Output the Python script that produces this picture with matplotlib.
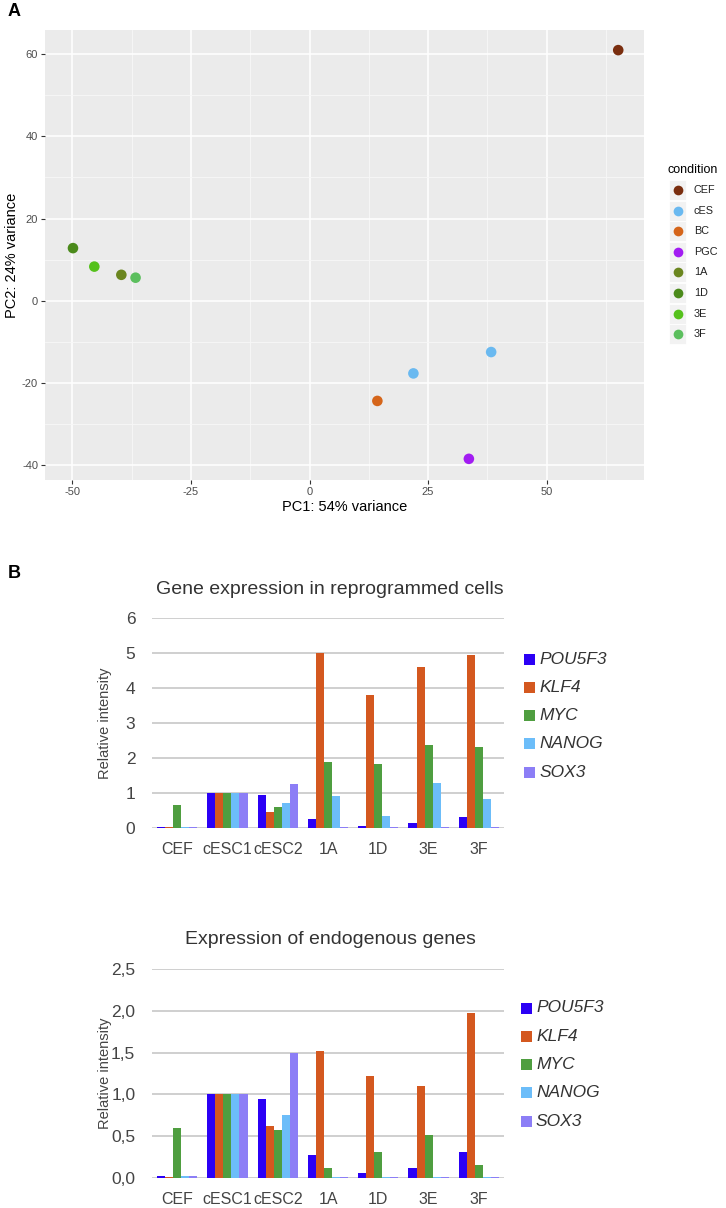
import numpy as np
import matplotlib
matplotlib.use("Agg")
import matplotlib.pyplot as plt
from matplotlib.patches import Rectangle
from matplotlib.lines import Line2D

plt.rcParams['font.family'] = ['Liberation Sans', 'DejaVu Sans']
plt.rcParams['axes.unicode_minus'] = False

W, H = 726, 1208

# ---- PCA data (panel A) ----
conditions = ['CEF', 'cES', 'BC', 'PGC', '1A', '1D', '3E', '3F']
cond_colors = ['#7A2E0F', '#6AB9F0', '#D5651A', '#A21CF2',
               '#6B861F', '#4B8A1B', '#55C11C', '#5CBF5E']
pc_cond = ['CEF', 'cES', 'cES', 'BC', 'PGC', '1A', '1D', '3E', '3F']
pc1 = [65.1, 38.3, 21.9, 14.3, 33.6, -39.7, -49.9, -45.4, -36.7]
pc2 = [61.0, -12.5, -17.7, -24.4, -38.5, 6.3, 12.8, 8.3, 5.6]

# ---- bar data (panel B) ----
samples = ['CEF', 'cESC1', 'cESC2', '1A', '1D', '3E', '3F']
genes = ['POU5F3', 'KLF4', 'MYC', 'NANOG', 'SOX3']
gene_colors = ['#2B00F5', '#D4581F', '#4F9E40', '#6CBDF9', '#8C7EF6']

total = {
    'POU5F3': [0.05, 1.0, 0.95, 0.27, 0.08, 0.14, 0.33],
    'KLF4':   [0.03, 1.0, 0.47, 5.02, 3.81, 4.61, 4.95],
    'MYC':    [0.67, 1.0, 0.61, 1.89, 1.83, 2.39, 2.32],
    'NANOG':  [0.05, 1.0, 0.73, 0.93, 0.36, 1.30, 0.83],
    'SOX3':   [0.05, 1.0, 1.27, 0.05, 0.05, 0.05, 0.05],
}
endo = {
    'POU5F3': [0.02, 1.0, 0.94, 0.27, 0.06, 0.12, 0.31],
    'KLF4':   [0.01, 1.0, 0.62, 1.52, 1.22, 1.10, 1.97],
    'MYC':    [0.60, 1.0, 0.58, 0.12, 0.31, 0.52, 0.16],
    'NANOG':  [0.02, 1.0, 0.75, 0.01, 0.01, 0.01, 0.01],
    'SOX3':   [0.02, 1.0, 1.50, 0.01, 0.01, 0.01, 0.01],
}


def fx(x):
    return x / W


def fy(y):
    return 1 - y / H


def box(x0, y0, x1, y1):
    # pixel box (top-left origin) -> figure rect
    return [fx(x0), fy(y1), (x1 - x0) / W, (y1 - y0) / H]


fig = plt.figure(figsize=(W / 100, H / 100), dpi=100)

# ================= panel A =================
ax = fig.add_axes(box(45, 30, 644.3, 480))
ax.set_facecolor('#EBEBEB')
ax.set_xlim(-55.8, 70.6)
ax.set_ylim(-43.65, 65.9)
ax.set_xticks([-50, -25, 0, 25, 50])
ax.set_yticks([-40, -20, 0, 20, 40, 60])
ax.set_xticks([-37.5, -12.5, 12.5, 37.5, 62.5], minor=True)
ax.set_yticks([-30, -10, 10, 30, 50], minor=True)
ax.grid(True, which='major', color='white', lw=1.1)
ax.grid(True, which='minor', color='#F7F7F7', lw=0.6)
ax.set_axisbelow(True)
for s in ax.spines.values():
    s.set_visible(False)
ax.tick_params(which='major', length=3, color='#333333', labelsize=8,
               labelcolor='#4D4D4D', pad=2)
ax.tick_params(which='minor', length=0)
for c, col in zip(conditions, cond_colors):
    xs = [x for x, k in zip(pc1, pc_cond) if k == c]
    ys = [y for y, k in zip(pc2, pc_cond) if k == c]
    ax.scatter(xs, ys, s=58, color=col, edgecolors='none', zorder=3)
ax.set_xlabel('PC1: 54% variance', fontsize=10.5, labelpad=2)
ax.set_ylabel('PC2: 24% variance', fontsize=10.5, labelpad=2)

# legend for panel A
fig.text(fx(667), fy(170), 'condition', fontsize=9, va='center', ha='left')
for i, (c, col) in enumerate(zip(conditions, cond_colors)):
    yc = 190 + 20.6 * i
    fig.add_artist(Rectangle((fx(669), fy(yc + 10)), 17 / W, 20 / H,
                             transform=fig.transFigure, facecolor='#F2F2F2',
                             edgecolor='white', lw=0.6))
    fig.add_artist(Line2D([fx(677.5)], [fy(yc)], marker='o', markersize=7,
                          color=col, markeredgewidth=0,
                          transform=fig.transFigure))
    fig.text(fx(694), fy(yc), c, fontsize=7.8, va='center', ha='left',
             color='#222222')

fig.text(fx(8), fy(12), 'A', fontsize=13, fontweight='bold', va='center')
fig.text(fx(8), fy(573), 'B', fontsize=13, fontweight='bold', va='center')


# ================= panel B =================
def bar_panel(rect, data, title, ymax, step, fmt, title_y, leg_x, leg_y0):
    a = fig.add_axes(rect)
    x = np.arange(len(samples))
    bw = 0.16
    for j, (g, col) in enumerate(zip(genes, gene_colors)):
        a.bar(x + (j - 2) * bw, data[g], width=bw, color=col, zorder=3)
    a.set_xlim(-0.5, len(samples) - 0.5)
    a.set_ylim(0, ymax)
    ticks = np.arange(0, ymax + step / 2, step)
    a.set_yticks(ticks)
    a.set_yticklabels([fmt(t) for t in ticks])
    a.set_xticks(x)
    a.set_xticklabels(samples)
    a.grid(True, axis='y', color='#CCCCCC', lw=1.3)
    a.set_axisbelow(True)
    for s in a.spines.values():
        s.set_visible(False)
    a.tick_params(axis='both', length=0)
    a.tick_params(axis='y', labelsize=12.5, labelcolor='#444444', pad=12)
    a.tick_params(axis='x', labelsize=11.5, labelcolor='#444444', pad=10)
    for lab in a.get_xticklabels():
        lab.set_family(['Liberation Sans Narrow', 'Liberation Sans'])
    a.set_ylabel('Relative intensity', fontsize=10.5, color='#444444')
    a.yaxis.set_label_coords(-0.115, 0.5)
    fig.text(fx(330), fy(title_y), title, fontsize=14, color='#333333',
             ha='center', va='center')
    for i, (g, col) in enumerate(zip(genes, gene_colors)):
        yc = leg_y0 + 28.3 * i
        fig.add_artist(Rectangle((fx(leg_x), fy(yc + 5.5)), 11 / W, 11 / H,
                                 transform=fig.transFigure, facecolor=col,
                                 edgecolor='none'))
        fig.text(fx(leg_x + 15), fy(yc), g, fontsize=12.5, style='italic',
                 color='#333333', ha='left', va='center')
    return a


bar_panel(box(152, 618.3, 504, 828.3), total,
          'Gene expression in reprogrammed cells', 6, 1,
          lambda t: f'{t:.0f}', 589, 524, 659)
bar_panel(box(152, 969, 504, 1178), endo,
          'Expression of endogenous genes', 2.5, 0.5,
          lambda t: f'{t:.1f}'.replace('.', ','), 939, 521, 1008)

fig.savefig('out.png', dpi=100)
